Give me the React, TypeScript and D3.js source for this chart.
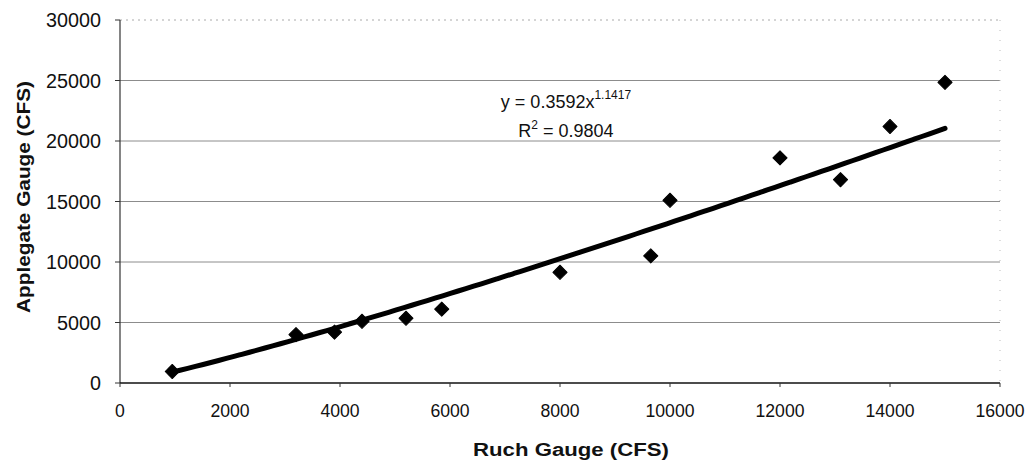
import React from "react";
import * as d3 from "d3";

const ruch = [950, 3200, 3900, 4400, 5200, 5850, 8000, 9650, 10000, 12000, 13100, 14000, 15000];
const applegate = [950, 4000, 4200, 5100, 5350, 6100, 9150, 10500, 15100, 18600, 16800, 21200, 24850];
const xTicks = [0, 2000, 4000, 6000, 8000, 10000, 12000, 14000, 16000];
const yTicks = [0, 5000, 10000, 15000, 20000, 25000, 30000];
const trendCoef = 0.3592;
const trendExp = 1.1417;
const xTitle = "Ruch Gauge (CFS)";
const yTitle = "Applegate Gauge (CFS)";

const W = 1034;
const H = 462;
const M = { left: 120, right: 1000, top: 20, bottom: 383 };
const FONT = "'Liberation Sans', Arial, Helvetica, sans-serif";

export default function App() {
  const x = d3.scaleLinear().domain([0, 16000]).range([M.left, M.right]);
  const y = d3.scaleLinear().domain([0, 30000]).range([M.bottom, M.top]);

  const xMin = d3.min(ruch) as number;
  const xMax = d3.max(ruch) as number;
  const trendPts: [number, number][] = d3
    .range(0, 101)
    .map((i) => xMin + ((xMax - xMin) * i) / 100)
    .map((v) => [v, trendCoef * Math.pow(v, trendExp)]);
  const line = d3
    .line<[number, number]>()
    .x((d) => x(d[0]))
    .y((d) => y(d[1]))
    .curve(d3.curveMonotoneX);

  const diamond = d3.symbol().type(d3.symbolSquare).size(100)() as string;

  return (
    <svg
      width={W}
      height={H}
      style={{ position: "absolute", left: 0, top: 0, display: "block", background: "#fff" }}
      fontFamily={FONT}
    >
      <rect x={0} y={0} width={W} height={H} fill="#fff" />
      {/* gridlines */}
      {yTicks
        .filter((t) => t > 0 && t < 30000)
        .map((t) => (
          <line key={"g" + t} x1={M.left} x2={M.right} y1={y(t)} y2={y(t)} stroke="#8c8c8c" strokeWidth={1} />
        ))}
      {/* top & right border, faint dotted */}
      <line x1={M.left} x2={M.right} y1={y(30000)} y2={y(30000)} stroke="#aaa" strokeWidth={1} strokeDasharray="2,4" />
      <line x1={M.right} x2={M.right} y1={M.top} y2={M.bottom} stroke="#bbb" strokeWidth={1} strokeDasharray="1,9" />

      {/* axes */}
      <line x1={M.left} x2={M.left} y1={M.top} y2={M.bottom} stroke="#333" strokeWidth={1.2} />
      <line x1={M.left} x2={M.right} y1={M.bottom} y2={M.bottom} stroke="#111" strokeWidth={1.5} />
      {yTicks.map((t) => (
        <g key={"yt" + t}>
          <line x1={M.left - 5} x2={M.left} y1={y(t)} y2={y(t)} stroke="#333" strokeWidth={1} />
          <text x={101} y={y(t)} dy="0.36em" textAnchor="end" fontSize={19.5} fill="#111" textLength={String(t).length * 11} lengthAdjust="spacingAndGlyphs">
            {t}
          </text>
        </g>
      ))}
      {xTicks.map((t) => (
        <g key={"xt" + t}>
          <line x1={x(t)} x2={x(t)} y1={M.bottom} y2={M.bottom + 4} stroke="#333" strokeWidth={1} />
          <text x={x(t)} y={417} textAnchor="middle" fontSize={17.5} fill="#111" textLength={String(t).length * 9.8} lengthAdjust="spacingAndGlyphs">
            {t}
          </text>
        </g>
      ))}

      {/* titles */}
      <text x={571} y={456} textAnchor="middle" fontSize={18} fontWeight="bold" fill="#111" textLength={196} lengthAdjust="spacingAndGlyphs">
        {xTitle}
      </text>
      <text
        transform={`translate(30,197) rotate(-90)`}
        textAnchor="middle"
        fontSize={18}
        fontWeight="bold"
        fill="#111"
        textLength={232}
        lengthAdjust="spacingAndGlyphs"
      >
        {yTitle}
      </text>

      {/* trendline */}
      <path d={line(trendPts) as string} fill="none" stroke="#000" strokeWidth={5} strokeLinecap="round" />

      {/* points */}
      {ruch.map((v, i) => (
        <path key={"p" + i} d={diamond} transform={`translate(${x(v)},${y(applegate[i])}) rotate(45)`} fill="#000" stroke="#000" strokeWidth={1} strokeLinejoin="round" />
      ))}

      {/* equation */}
      <text x={566} y={108} textAnchor="middle" fontSize={18} fill="#111">
        <tspan>y = 0.3592x</tspan>
        <tspan fontSize={12} dy={-9}>1.1417</tspan>
      </text>
      <text x={566} y={137} textAnchor="middle" fontSize={18} fill="#111">
        <tspan>R</tspan>
        <tspan fontSize={12} dy={-8}>2</tspan>
        <tspan dy={8}> = 0.9804</tspan>
      </text>
    </svg>
  );
}
